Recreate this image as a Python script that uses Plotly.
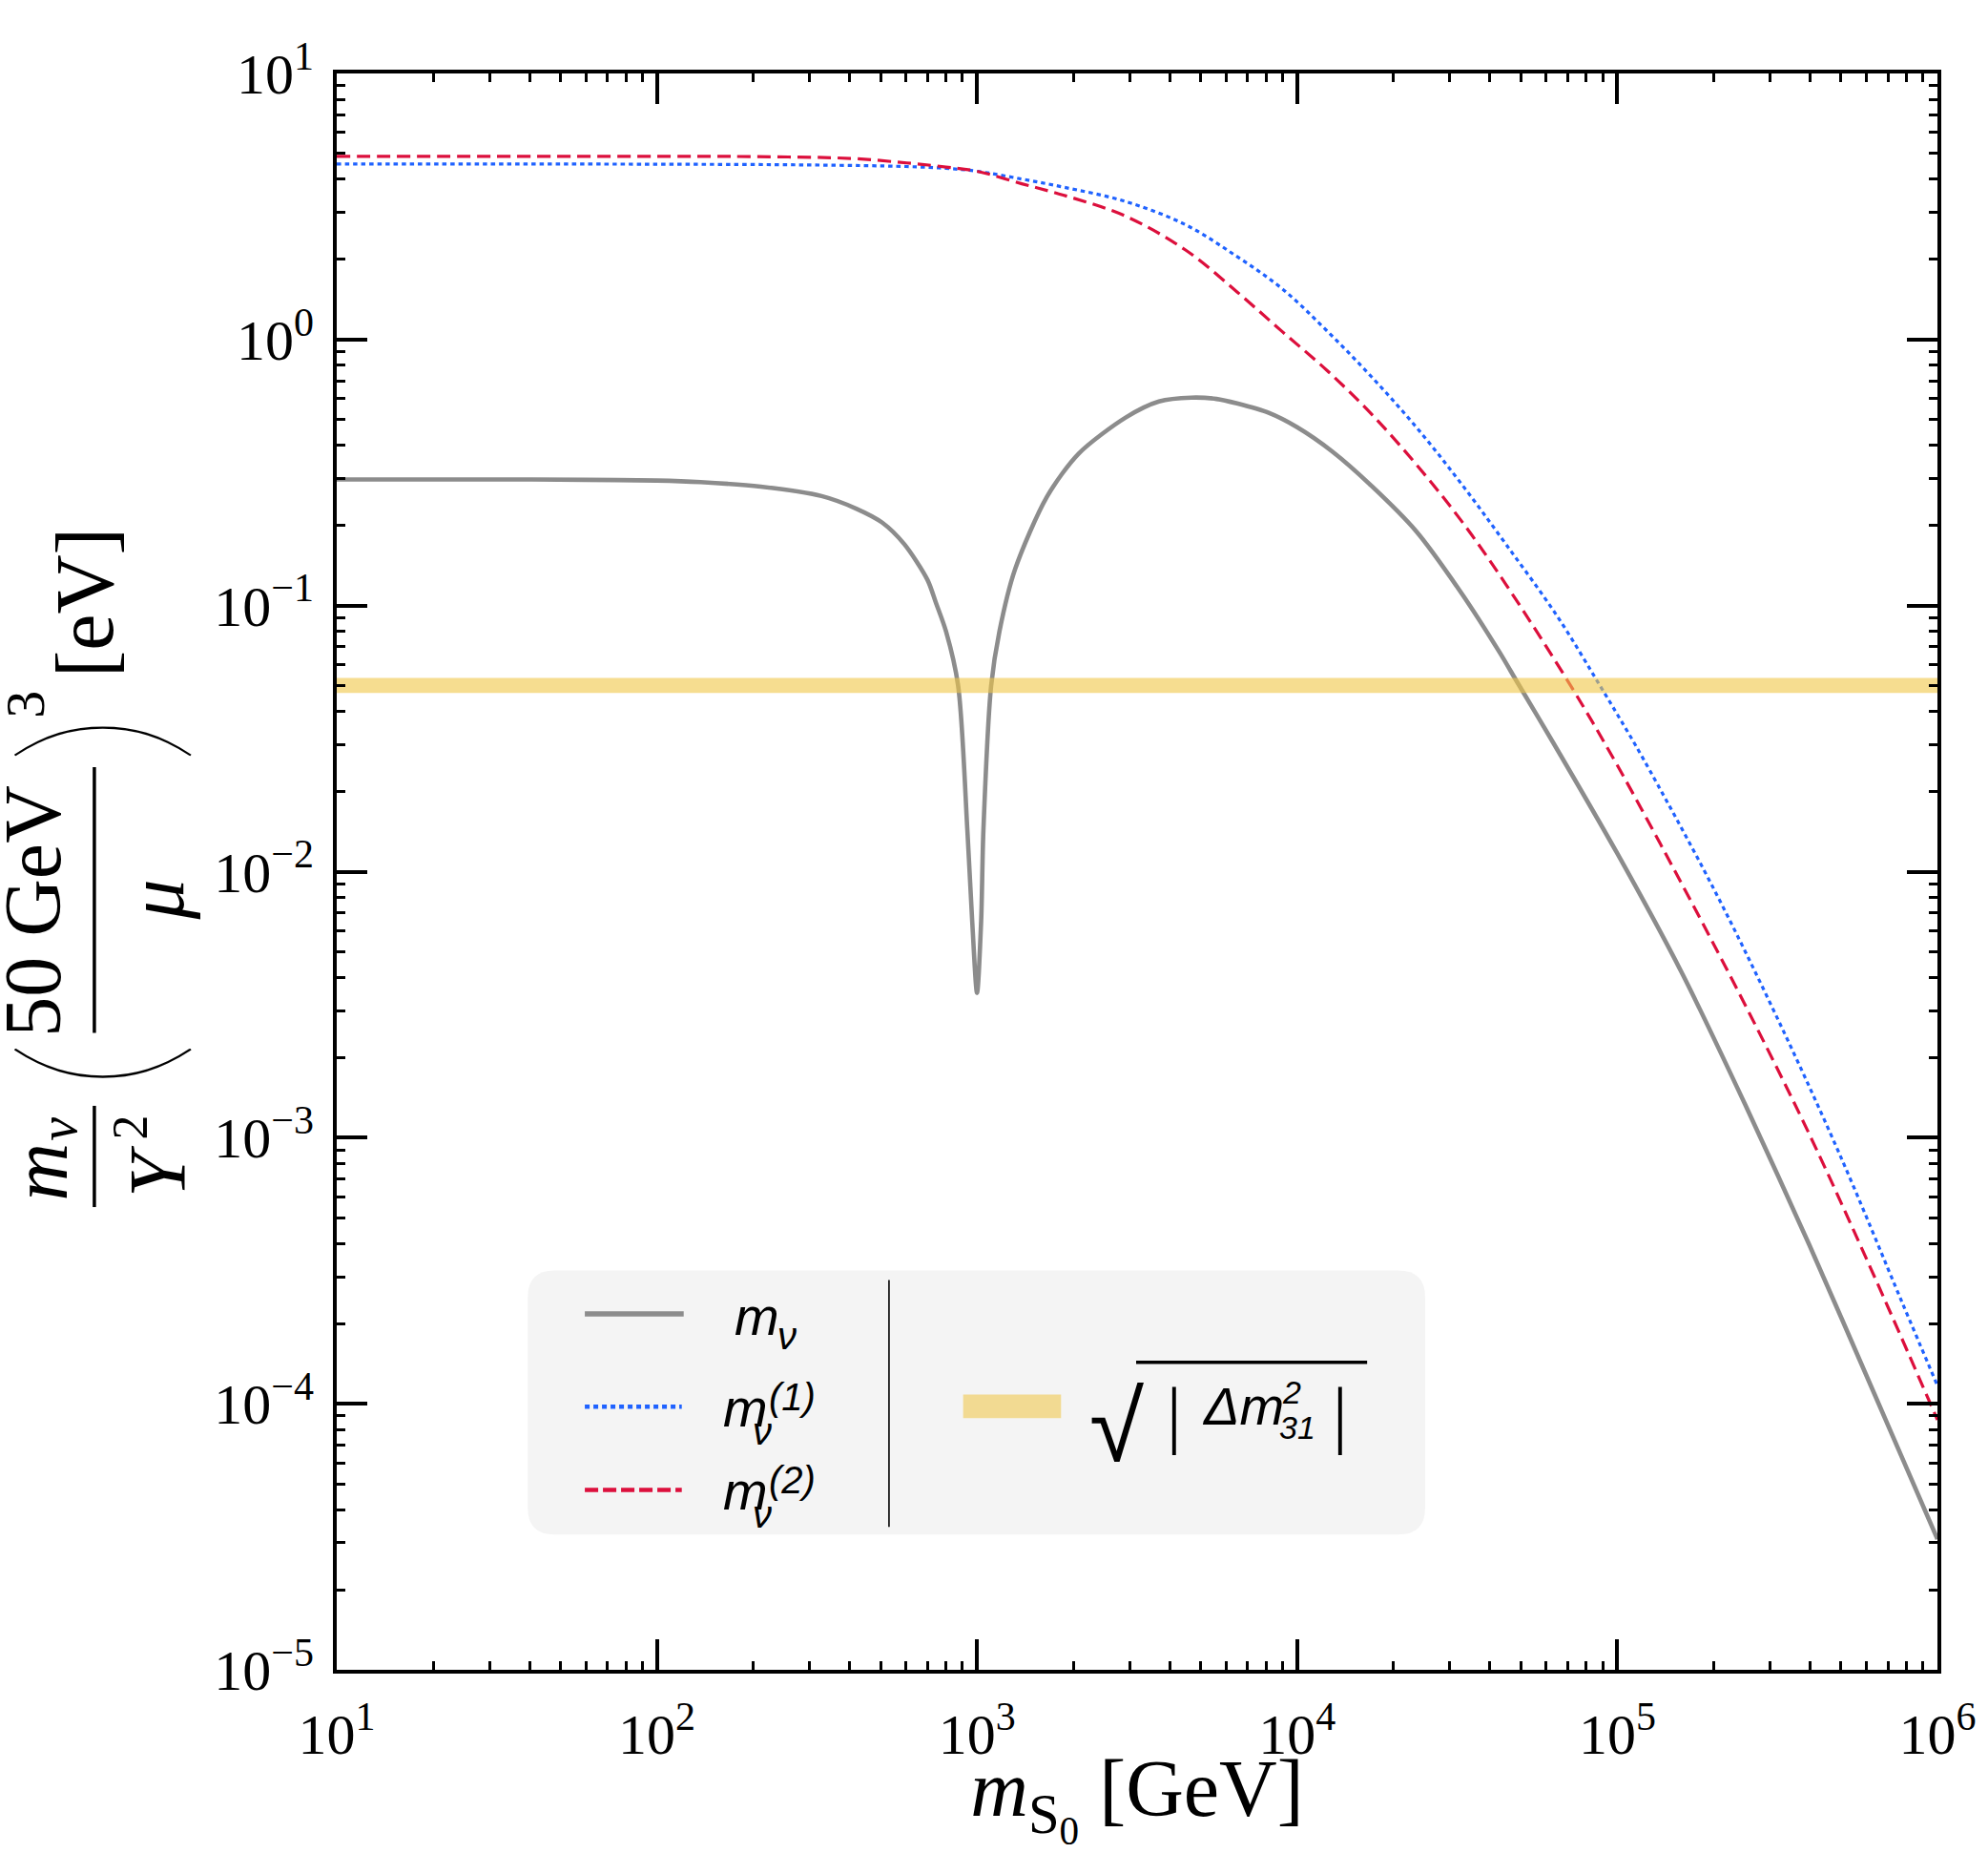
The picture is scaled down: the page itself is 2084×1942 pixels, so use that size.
import plotly.graph_objects as go

# ---------------- data ----------------
x_gray = [10, 30, 60, 100, 137, 211, 327, 421, 506, 593, 700, 745, 800, 873, 933, 966, 1000,
          1030, 1047, 1107, 1175, 1315, 1652, 2075, 2920, 3700, 4670, 5600, 6490, 8150,
          10000, 12850, 17060, 23570, 32500, 42800, 48700, 63100, 100000, 158500, 251000,
          398000, 631000, 1000000]
y_gray = [0.298, 0.298, 0.297, 0.295, 0.291, 0.280, 0.258, 0.231, 0.205, 0.170, 0.125, 0.102,
          0.080, 0.050, 0.0143, 0.0065, 0.0035, 0.0065, 0.0143, 0.050, 0.080, 0.137, 0.256,
          0.372, 0.510, 0.585, 0.605, 0.598, 0.575, 0.53, 0.468, 0.38, 0.282, 0.19, 0.112,
          0.0670, 0.0515, 0.0305, 0.0117, 0.0042, 0.00133, 0.000395, 0.000111, 0.000031]

x_blue = [10, 100, 300, 600, 800, 1000, 1380, 1860, 2890, 4480, 6490, 8990, 12370, 17060,
          23570, 32500, 44900, 65000, 88300, 100000, 120000, 198000, 312000, 492000, 776000,
          1000000]
y_blue = [4.57, 4.56, 4.53, 4.47, 4.40, 4.29, 4.01, 3.74, 3.31, 2.70, 2.05, 1.55, 1.08, 0.725,
          0.468, 0.288, 0.170, 0.091, 0.050, 0.039, 0.0268, 0.00883, 0.00291, 0.00088,
          0.000240, 0.000117]

x_red = [10, 100, 200, 407, 603, 800, 1000, 1380, 1860, 2890, 4480, 6490, 8990, 12370, 17060,
         23570, 32500, 44900, 71500, 100000, 158000, 248000, 392000, 618000, 1000000]
y_red = [4.88, 4.88, 4.87, 4.79, 4.61, 4.45, 4.29, 3.85, 3.49, 2.92, 2.17, 1.51, 1.07, 0.767,
         0.525, 0.339, 0.209, 0.120, 0.050, 0.0251, 0.00912, 0.00324, 0.00107, 0.000324,
         0.000087]

band_low, band_high = 0.0469, 0.0535     # sqrt(|Δm²31|) range [eV]

x_tickvals = [1e1, 1e2, 1e3, 1e4, 1e5, 1e6]
x_ticktext = ["10<sup>1</sup>", "10<sup>2</sup>", "10<sup>3</sup>", "10<sup>4</sup>",
              "10<sup>5</sup>", "10<sup>6</sup>"]
y_tickvals = [1e-5, 1e-4, 1e-3, 1e-2, 1e-1, 1e0, 1e1]
y_ticktext = ["10<sup>−5</sup>", "10<sup>−4</sup>", "10<sup>−3</sup>", "10<sup>−2</sup>",
              "10<sup>−1</sup>", "10<sup>0</sup>", "10<sup>1</sup>"]

# ---------------- layout geometry ----------------
W, H = 2084, 1942
PL, PR, PT, PB = 353, 2037, 77, 1764
def fx(px): return (px - PL) / (PR - PL)
def fy(py): return (PB - py) / (PB - PT)

SERIF = "Liberation Serif"
SANS = "Liberation Sans"
THIN = "Lato, Inter, Liberation Serif"
C_GRAY, C_BLUE, C_RED = "#8c8c8c", "#1f62ff", "#dc0f3c"
BAND_FILL = "rgba(240,198,70,0.6)"

fig = go.Figure()
fig.add_trace(go.Scatter(x=x_gray, y=y_gray, mode="lines", name="m_ν",
                         line=dict(color=C_GRAY, width=4.6, shape="spline", smoothing=0.8)))
fig.add_trace(go.Scatter(x=x_blue, y=y_blue, mode="lines", name="m_ν^(1)",
                         line=dict(color=C_BLUE, width=3.2, dash="4.5px,4px", shape="spline",
                                   smoothing=1.0)))
fig.add_trace(go.Scatter(x=x_red, y=y_red, mode="lines", name="m_ν^(2)",
                         line=dict(color=C_RED, width=3.2, dash="14px,7px", shape="spline",
                                   smoothing=1.0)))
xlo, xhi = x_tickvals[0], x_tickvals[-1]
fig.add_trace(go.Scatter(x=[xlo, xhi, xhi, xlo, xlo],
                         y=[band_low, band_low, band_high, band_high, band_low],
                         mode="lines", fill="toself", fillcolor=BAND_FILL,
                         line=dict(width=0), name="sqrt|Δm²31|"))

minor_x = [m * 10 ** k for k in range(1, 6) for m in range(2, 10)]
minor_y = [m * 10.0 ** k for k in range(-5, 1) for m in range(2, 10)]

def axis(tickvals, ticktext, minorvals, rng):
    return dict(type="log", range=rng, showline=True, linewidth=4, linecolor="black",
                mirror="ticks", ticks="inside", ticklen=32, tickwidth=3.5, tickcolor="black",
                tickvals=tickvals, ticktext=ticktext, showgrid=False, zeroline=False,
                tickfont=dict(family=SERIF, size=60, color="black"),
                minor=dict(ticks="inside", ticklen=9, tickwidth=3.2, tickcolor="black",
                           tickvals=minorvals, showgrid=False))

xa = axis(x_tickvals, x_ticktext, minor_x, [1, 6])
xa.update(title=dict(text="<i>m</i><sub>S<sub>0</sub></sub> [GeV]",
                     font=dict(family=SERIF, size=84, color="black"), standoff=20),
          ticklabelstandoff=12)
ya = axis(y_tickvals, y_ticktext, minor_y, [-5, 1])
ya.update(ticklabelstandoff=8)

ann = []
shapes = []

def rot(text, xc, yc, size, family=SERIF, weight=None):
    f = dict(family=family, size=size, color="black")
    if weight:
        f["weight"] = weight
    ann.append(dict(text=text, x=fx(xc), y=fy(yc), xref="paper", yref="paper",
                    showarrow=False, textangle=-90, xanchor="center", yanchor="middle",
                    borderpad=0, font=f))

def txt(text, xl, yc, size, family=SANS, anchor="left"):
    ann.append(dict(text=text, x=fx(xl), y=fy(yc), xref="paper", yref="paper",
                    showarrow=False, xanchor=anchor, yanchor="middle", borderpad=0,
                    font=dict(family=family, size=size, color="black")))

def hline(x0, y0, x1, y1, width, color="black", dash=None):
    d = dict(type="line", xref="paper", yref="paper", x0=fx(x0), y0=fy(y0), x1=fx(x1),
             y1=fy(y1), line=dict(color=color, width=width))
    if dash:
        d["line"]["dash"] = dash
    shapes.append(d)

# ---- y-axis label: m_ν / Y² (50 GeV / μ)³ [eV] (rotated pieces) ----
rot("<i>m</i>", 40, 1238, 84)
rot("<i>ν</i>", 60, 1193, 56)
rot("<i>Y</i>", 165, 1237, 84)
rot("2", 136, 1191, 52)
hline(98, 1168, 98, 1275, 3.5)
rot("(", 92, 1125, 212, family=THIN, weight=200)
rot("50 GeV", 34, 962, 84)
hline(98, 810, 98, 1091, 3.5)
rot("<i>μ</i>", 163, 950, 84)
rot(")", 92, 780, 212, family=THIN, weight=200)
rot("3", 25, 744, 58)
rot("[eV]", 88, 636, 86)

# ---- legend (custom two-column box) ----
bx0, by0, bx1, by1, r = 554, 1342, 1498, 1621, 28
def P(x, y): return f"{fx(x):.6f},{fy(y):.6f}"
path = (f"M {P(bx0 + r, by0)} L {P(bx1 - r, by0)} Q {P(bx1, by0)} {P(bx1, by0 + r)} "
        f"L {P(bx1, by1 - r)} Q {P(bx1, by1)} {P(bx1 - r, by1)} L {P(bx0 + r, by1)} "
        f"Q {P(bx0, by1)} {P(bx0, by1 - r)} L {P(bx0, by0 + r)} Q {P(bx0, by0)} {P(bx0 + r, by0)} Z")
shapes.append(dict(type="path", xref="paper", yref="paper", path=path,
                   fillcolor="#f4f4f4", line=dict(width=0), layer="above"))
hline(934, 1352, 934, 1613, 1.6)

hline(614, 1388, 718, 1388, 5.5, C_GRAY)
hline(614, 1486, 716, 1486, 4.5, C_BLUE, "5px,4px")
hline(614, 1574, 716, 1574, 4.5, C_RED, "14px,5px")

txt("<i>m</i>", 770, 1390, 56)
txt("<i>ν</i>", 816, 1411, 40)
txt("<i>m</i>", 758, 1487, 56)
txt("<i>(1)</i>", 807, 1476, 40)
txt("<i>ν</i>", 790, 1512, 40)
txt("<i>m</i>", 758, 1575, 56)
txt("<i>(2)</i>", 807, 1563, 40)
txt("<i>ν</i>", 790, 1600, 40)

shapes.append(dict(type="rect", xref="paper", yref="paper", x0=fx(1012), x1=fx(1115),
                   y0=fy(1498), y1=fy(1473), fillcolor="rgb(242,218,146)",
                   line=dict(width=0)))
txt("√", 1173, 1507, 104, anchor="center")
hline(1194, 1439, 1437, 1439, 3.5)
txt("|", 1234, 1493, 78, family=SERIF, anchor="center")
txt("<i>Δm</i>", 1262, 1485, 56)
txt("<i>2</i>", 1347, 1471, 34)
txt("<i>31</i>", 1344, 1508, 34)
txt("|", 1409, 1493, 78, family=SERIF, anchor="center")

fig.update_layout(width=W, height=H, margin=dict(l=PL, r=W - PR, t=PT, b=H - PB),
                  paper_bgcolor="white", plot_bgcolor="white", showlegend=False,
                  xaxis=xa, yaxis=ya, annotations=ann, shapes=shapes)

fig.write_html("out.html")
